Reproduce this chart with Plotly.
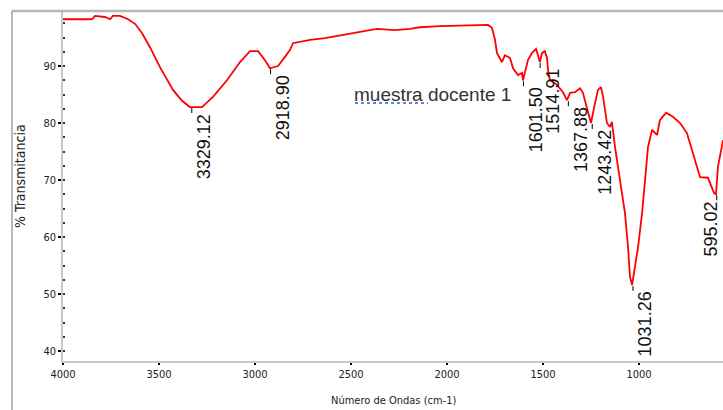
import plotly.graph_objects as go

# Spectrum
wavenumber = [4000, 3849, 3833, 3781, 3755, 3740, 3703, 3661, 3625, 3589, 3547, 3495, 3427, 3380,
              3339, 3276, 3219, 3146, 3078, 3026, 2984, 2948, 2922, 2880, 2844, 2818, 2802, 2766,
              2714, 2635, 2542, 2453, 2365, 2271, 2193, 2141, 2036, 1880, 1786, 1766, 1750, 1740,
              1714, 1698, 1672, 1656, 1630, 1609, 1604, 1578, 1557, 1536, 1526, 1516, 1505, 1490,
              1479, 1474, 1464, 1427, 1396, 1375, 1359, 1333, 1307, 1292, 1271, 1250, 1229, 1214,
              1198, 1187, 1167, 1151, 1141, 1125, 1099, 1073, 1057, 1047, 1036, 1021, 1005, 984,
              969, 953, 932, 906, 891, 859, 823, 786, 750, 719, 682, 641, 609, 599, 589, 562]
transmittance = [98.2, 98.2, 98.8, 98.6, 98.2, 98.8, 98.8, 98.2, 97.4, 95.8, 93.3, 89.8, 85.8, 83.9,
                 82.8, 82.8, 84.6, 87.5, 90.7, 92.6, 92.6, 91.0, 89.6, 90.0, 91.6, 92.8, 94.0, 94.2,
                 94.6, 94.9, 95.4, 96.0, 96.5, 96.3, 96.5, 96.8, 97.0, 97.2, 97.2, 96.7, 94.6, 92.3,
                 90.7, 91.9, 91.4, 89.6, 88.4, 88.8, 87.5, 91.1, 92.3, 93.0, 91.9, 90.7, 92.3, 92.6,
                 91.4, 89.3, 87.5, 86.7, 85.4, 84.0, 85.3, 85.4, 86.1, 85.3, 82.6, 80.0, 83.5, 85.8,
                 86.3, 84.6, 80.0, 79.3, 80.2, 75.8, 70.0, 64.2, 58.2, 53.0, 51.6, 54.7, 58.2, 64.2,
                 70.0, 75.8, 78.8, 77.9, 80.5, 81.8, 81.1, 80.0, 78.2, 74.7, 70.5, 70.4, 67.7, 67.5,
                 72.3, 77.0]

peak_labels = ["3329.12", "2918.90", "1601.50", "1514.91", "1367.88", "1243.42", "1031.26", "595.02"]
peak_x = [3329.12, 2918.90, 1601.50, 1514.91, 1367.88, 1243.42, 1031.26, 595.02]
peak_y = [82.8, 89.6, 87.5, 90.7, 84.0, 80.0, 51.6, 67.5]

y_ticks = [40, 50, 60, 70, 80, 90]
x_ticks = [4000, 3500, 3000, 2500, 2000, 1500, 1000]

sample_name = "muestra docente 1"
x_title = "Número de Ondas (cm-1)"
y_title = "% Transmitancia"

NARROW = "Liberation Sans Narrow, Arial Narrow, DejaVu Sans Condensed, sans-serif"

fig = go.Figure()
fig.add_trace(go.Scatter(x=wavenumber, y=transmittance, mode="lines",
                         line=dict(color="#ff0000", width=1.8), showlegend=False,
                         hoverinfo="x+y"))

# peak labels and small tick marks
for i, (lab, px, py) in enumerate(zip(peak_labels, peak_x, peak_y)):
    fig.add_shape(type="line", xref="x", yref="y", ysizemode="pixel", yanchor=py,
                  x0=px, x1=px, y0=-1, y1=-6,
                  line=dict(color="black", width=1))
    last = i == len(peak_labels) - 1
    fig.add_annotation(x=px, y=py, xref="x", yref="y", text=lab, textangle=-90,
                       showarrow=False, xanchor="right" if last else "left",
                       yanchor="top", yshift=-5, xshift=6 if last else 0,
                       font=dict(family="Liberation Sans, Arial, sans-serif", size=18, color="#111"))

fig.add_annotation(x=2073, y=85.0, xref="x", yref="y", text=sample_name, showarrow=False,
                   font=dict(family="Liberation Sans, Arial, sans-serif", size=19, color="#333"))
# spell-check squiggle under "muestra"
fig.add_shape(type="line", xref="x", yref="y", x0=2479, x1=2099, y0=83.5, y1=83.5,
              line=dict(color="#3355dd", width=1.5, dash="dot"))

fig.add_annotation(x=0.5, y=-0.112, xref="paper", yref="paper", text=x_title, showarrow=False,
                   xanchor="center", yanchor="middle",
                   font=dict(family=NARROW, size=11, color="#222"))
fig.add_annotation(x=-0.066, y=0.53, xref="paper", yref="paper", text=y_title, showarrow=False,
                   textangle=-90, xanchor="center", yanchor="middle",
                   font=dict(family=NARROW, size=14, color="#222"))

# outer frame
fig.add_shape(type="line", xref="paper", yref="paper", x0=-0.0773, x1=1.0, y0=1.0, y1=1.0,
              line=dict(color="#b8b8b8", width=2.5))
fig.add_shape(type="line", xref="paper", yref="paper", x0=-0.0773, x1=-0.0773, y0=1.0, y1=-0.16,
              line=dict(color="#b8b8b8", width=2))

fig.update_xaxes(range=[4000, 562.5], tickvals=x_ticks, ticktext=[str(v) for v in x_ticks],
                 showgrid=False, zeroline=False, showline=True, linecolor="#c8c8c8", linewidth=1.5,
                 ticks="outside", ticklen=2, tickwidth=2, tickcolor="black",
                 tickfont=dict(family=NARROW, size=11, color="#222"))
fig.update_yaxes(range=[38.25, 99.65], tickvals=y_ticks, ticktext=[str(v) for v in y_ticks],
                 showgrid=False, zeroline=False, showline=True, linecolor="#c8c8c8", linewidth=1.5,
                 ticks="outside", ticklen=3, tickwidth=1.5, tickcolor="black",
                 tickfont=dict(family=NARROW, size=11, color="#222"),
                 minor=dict(dtick=2.5, tick0=40, ticks="inside", ticklen=2, tickwidth=2,
                            tickcolor="#333", showgrid=False))

fig.update_layout(width=723, height=410, margin=dict(l=63, r=0, t=11, b=49),
                  plot_bgcolor="white", paper_bgcolor="white")

fig.write_html("out.html", config={"displayModeBar": False},
               post_script="document.body.style.margin='0';document.body.style.overflow='hidden';")
